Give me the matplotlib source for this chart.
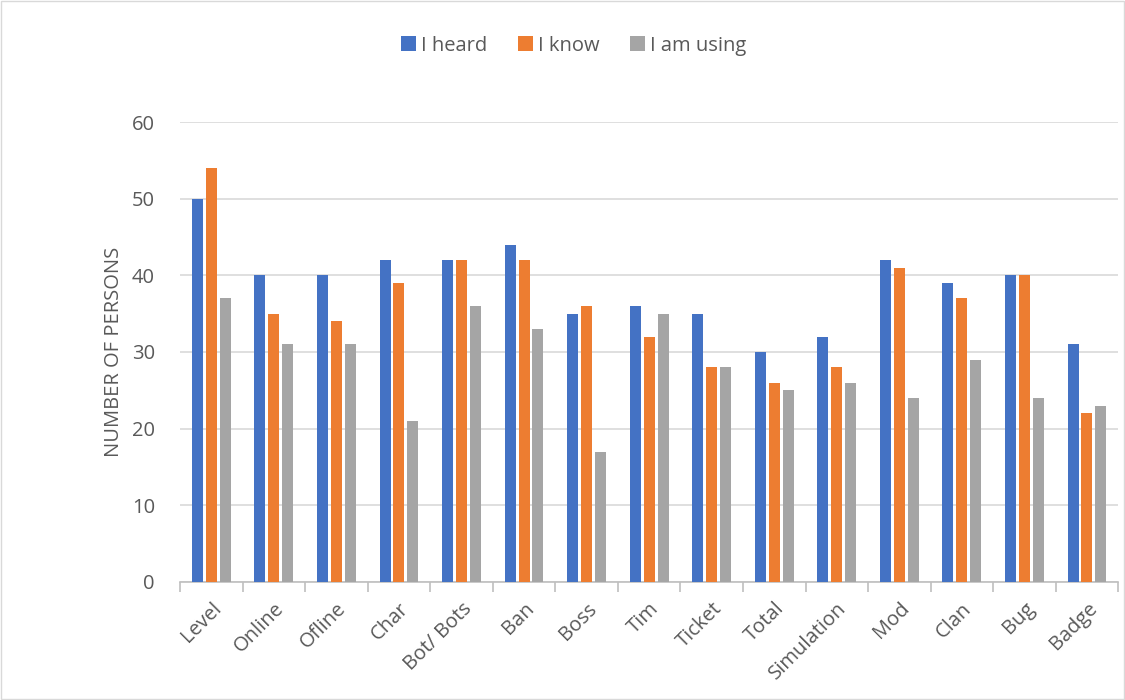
import matplotlib.pyplot as plt
import numpy as np
from matplotlib.patches import Rectangle

plt.rcParams['font.family'] = ['Open Sans', 'DejaVu Sans']

categories = ['Level', 'Online', 'Ofline', 'Char', 'Bot/ Bots', 'Ban', 'Boss', 'Tim',
              'Ticket', 'Total', 'Simulation', 'Mod', 'Clan', 'Bug', 'Badge']
heard = [50, 40, 40, 42, 42, 44, 35, 36, 35, 30, 32, 42, 39, 40, 31]
know = [54, 35, 34, 39, 42, 42, 36, 32, 28, 26, 28, 41, 37, 40, 22]
using = [37, 31, 31, 21, 36, 33, 17, 35, 28, 25, 26, 24, 29, 24, 23]
series_names = ['I heard', 'I know', 'I am using']
colors = ['#4472C4', '#ED7D31', '#A5A5A5']
text_color = '#595959'

fig = plt.figure(figsize=(11.25, 7.0), dpi=100)
ax = fig.add_axes([0.16, 0.1686, 0.834, 0.6571])

x = np.arange(len(categories))
width = 0.176
step = 0.222
for i, (vals, name, c) in enumerate(zip([heard, know, using], series_names, colors)):
    ax.bar(x + (i - 1) * step, vals, width, color=c, label=name, zorder=3)

ax.set_xlim(-0.5, len(categories) - 0.5)
ax.set_ylim(0, 60)
ax.set_yticks(range(0, 61, 10))
ax.yaxis.grid(True, color='#D9D9D9', linewidth=1.2, zorder=0)
ax.set_axisbelow(True)

for s in ['top', 'right', 'left']:
    ax.spines[s].set_visible(False)
ax.spines['bottom'].set_color('#BFBFBF')
ax.spines['bottom'].set_linewidth(1.2)

# category separators hang below the axis line
ax.set_xticks(np.arange(-0.5, len(categories), 1), minor=False)
ax.set_xticklabels([])
ax.tick_params(axis='x', which='major', length=7, color='#BFBFBF', width=1.2)
ax.set_xticks(x, minor=True)
ax.set_xticklabels(categories, minor=True, rotation=45, ha='right', rotation_mode='anchor',
                   fontsize=14.5, color=text_color)
ax.tick_params(axis='x', which='minor', length=0, pad=12)
ax.tick_params(axis='y', length=0, labelsize=14.5, labelcolor=text_color, pad=18)

ax.set_ylabel('NUMBER OF PERSONS', fontsize=14.5, color=text_color, labelpad=6)

ax.legend(loc='upper center', bbox_to_anchor=(0.51, 0.975), bbox_transform=fig.transFigure,
          ncol=3, frameon=False, fontsize=14.5,
          handlelength=0.75, handleheight=0.75, handletextpad=0.25, columnspacing=1.5,
          labelcolor=text_color)

fig.patches.append(Rectangle((0.001, 0.001), 0.998, 0.998, transform=fig.transFigure,
                             fill=False, edgecolor='#D9D9D9', linewidth=1))

fig.savefig('out.png', dpi=100)
